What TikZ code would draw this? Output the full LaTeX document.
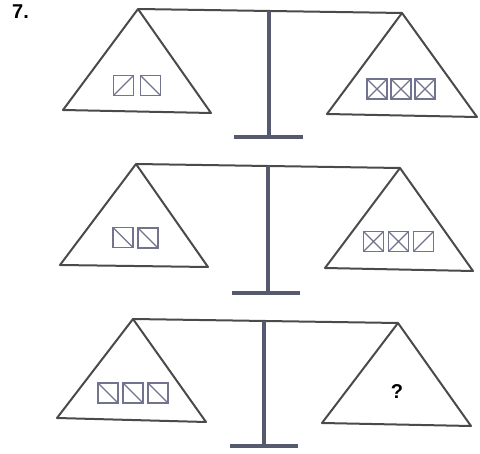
\documentclass[tikz,border=0pt]{standalone}
\usepackage{fontspec}
\setmainfont{Liberation Sans}
\definecolor{lineg}{HTML}{4A4A4A}
\definecolor{postc}{HTML}{555A6E}
\definecolor{boxc}{HTML}{72748E}
\begin{document}
\begin{tikzpicture}[x=1pt,y=-1pt,
  pan/.style={draw=lineg,line width=2pt,line join=round},
  beam/.style={draw=lineg,line width=2pt},
  post/.style={draw=postc,line width=3.6pt},
  foot/.style={draw=postc,line width=3.6pt},
  bxs/.style={draw=boxc,line width=1.1pt},
  boxX/.pic={\draw[bxs] (-10,-10) rectangle (10,10); \draw[bxs] (-10,-10)--(10,10) (-10,10)--(10,-10);},
  boxS/.pic={\draw[bxs] (-10,-10) rectangle (10,10); \draw[bxs] (-10,10)--(10,-10);},
  boxB/.pic={\draw[bxs] (-10,-10) rectangle (10,10); \draw[bxs] (-10,-10)--(10,10);},
  lbl/.style={font=\bfseries\fontsize{20}{20}\selectfont,inner sep=0pt}
]
\useasboundingbox (0,0) rectangle (480,454);
\node[lbl,anchor=north west] (num) at (12,5) {7.};

% ---- scale 1 ----
\coordinate (la1) at (138,9); \coordinate (ra1) at (402,13);
\draw[pan] (la1) -- (63,110) -- (211,113) -- cycle;
\draw[pan] (ra1) -- (327,114) -- (477,117) -- cycle;
\draw[beam] (la1) -- (ra1);
\coordinate (pt1) at (269,11); \coordinate (pb1) at (269,137);
\draw[post] (pt1) -- (pb1);
\draw[foot] (234,137) -- (303,137);
\pic at (123.5,85.5) {boxS};
\pic at (150.5,85.5) {boxB};
\pic at (377,89) {boxX};
\pic at (401,89) {boxX};
\pic at (425,89) {boxX};

% ---- scale 2 ----
\coordinate (la2) at (136,164); \coordinate (ra2) at (400,168);
\draw[pan] (la2) -- (60,265) -- (208,267) -- cycle;
\draw[pan] (ra2) -- (325,268) -- (473,271) -- cycle;
\draw[beam] (la2) -- (ra2);
\coordinate (pt2) at (268,166); \coordinate (pb2) at (268,293);
\draw[post] (pt2) -- (pb2);
\draw[foot] (232,293) -- (300,293);
\pic at (123,237.5) {boxB};
\pic at (148,238) {boxB};
\pic at (373.5,241.5) {boxX};
\pic at (398.5,241.5) {boxX};
\pic at (423.5,241.5) {boxS};

% ---- scale 3 ----
\coordinate (la3) at (133,319); \coordinate (ra3) at (398,323);
\draw[pan] (la3) -- (57,418) -- (206,422) -- cycle;
\draw[pan] (ra3) -- (322,423) -- (471,426) -- cycle;
\draw[beam] (la3) -- (ra3);
\coordinate (pt3) at (264,321); \coordinate (pb3) at (264,446);
\draw[post] (pt3) -- (pb3);
\draw[foot] (230,446) -- (298,446);
\pic at (108,393) {boxB};
\pic at (133,393) {boxB};
\pic at (158,393) {boxB};
\node[lbl,font=\bfseries\fontsize{20}{20}\selectfont] (q) at (397,392) {?};
\end{tikzpicture}
\end{document}
